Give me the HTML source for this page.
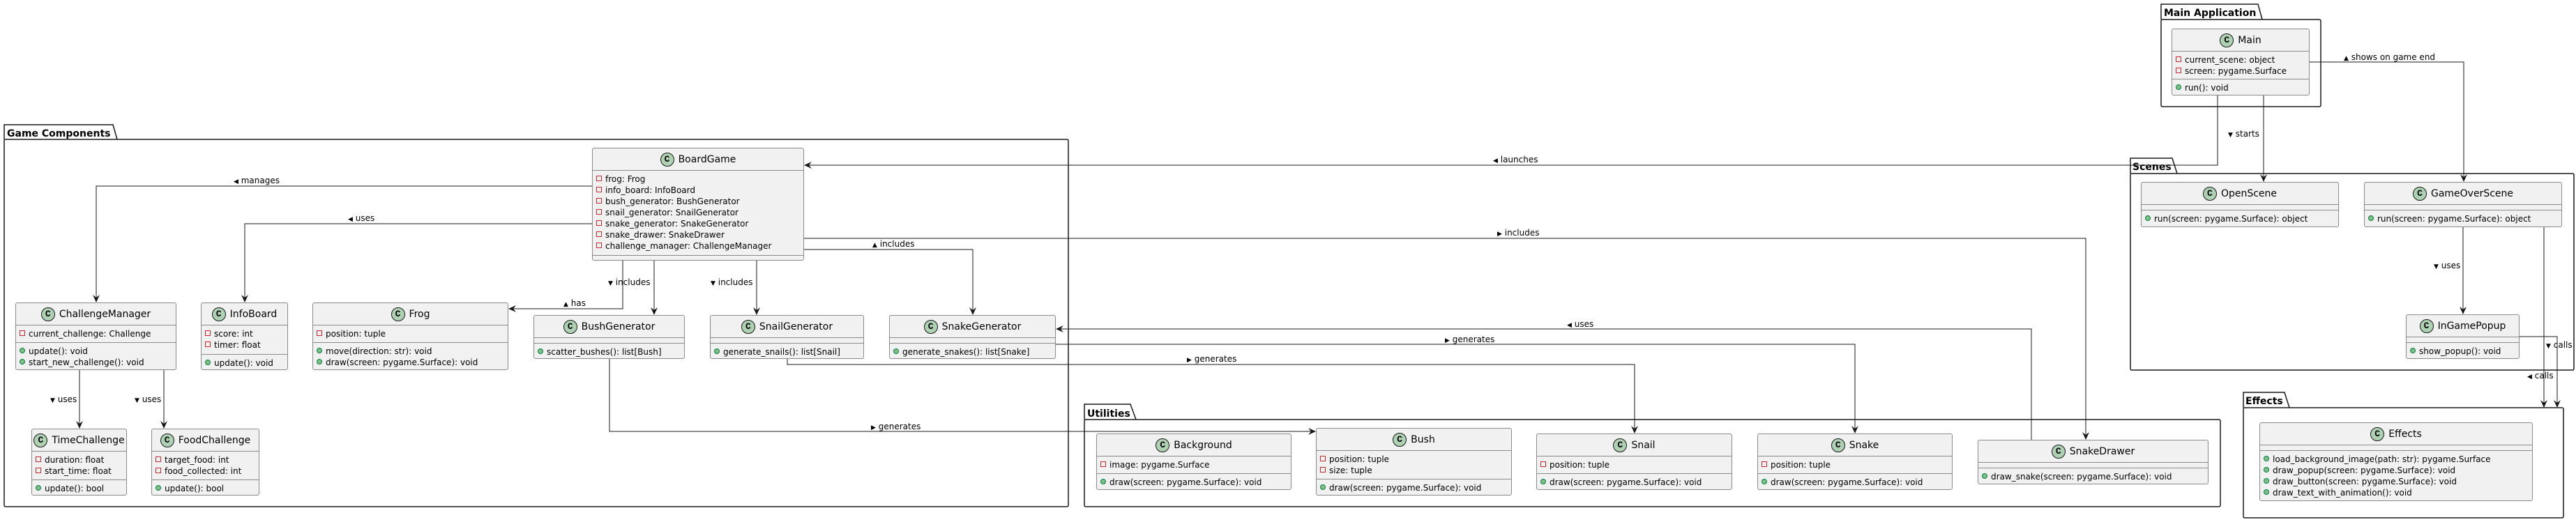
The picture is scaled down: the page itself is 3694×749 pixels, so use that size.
<!DOCTYPE html>
<html><head><meta charset="utf-8">
<style>
html,body{margin:0;padding:0;background:#fff;}
body{width:3694px;height:749px;position:relative;overflow:hidden;font-family:"DejaVu Sans","Liberation Sans",sans-serif;color:#000;}
svg{position:absolute;left:0;top:0;}
.c{position:absolute;background:#f1f1f1;border:1px solid #8a8a8a;border-radius:3px;box-sizing:border-box;overflow:hidden;}
.h{height:31px;display:flex;align-items:center;justify-content:center;font-size:14px;white-space:nowrap;}
.i{display:inline-block;width:20px;height:20px;border-radius:50%;background:#add1b2;border:1px solid #181818;box-sizing:border-box;font-weight:bold;font-size:13px;line-height:18px;text-align:center;margin-right:6px;font-family:"Liberation Mono","DejaVu Sans Mono",monospace;}
.s{border-top:1px solid #8a8a8a;padding:4px 0 4px 5px;font-size:12px;line-height:16px;white-space:nowrap;box-sizing:border-box;}
.e{height:8px;padding:0;}
.a::before{content:"";display:inline-block;width:6px;height:6px;border:1px solid #c82930;margin-right:5px;vertical-align:1px;}
.m::before{content:"";display:inline-block;width:6px;height:6px;border:1px solid #038048;background:#84be84;border-radius:50%;margin-right:5px;vertical-align:1px;}
</style></head><body>
<svg width="3694" height="749" viewBox="0 0 3694 749" font-family="DejaVu Sans, Liberation Sans, sans-serif">
<g fill="none" stroke="#181818" stroke-width="1.5">
<!-- Game Components -->
<path d="M6,200 L6,179 L162,179 L168,200"/>
<rect x="6" y="200" width="1526" height="527" rx="2"/>
<!-- Utilities -->
<path d="M1555,602 L1555,580 L1621,580 L1629,602"/>
<rect x="1555" y="602" width="1629" height="125" rx="2"/>
<!-- Main Application -->
<path d="M3099,28 L3099,6 L3238,6 L3244,28"/>
<rect x="3099" y="28" width="229" height="125" rx="2"/>
<!-- Scenes -->
<path d="M3055,249 L3055,227 L3115,227 L3122,249"/>
<rect x="3055" y="249" width="636" height="282" rx="2"/>
<!-- Effects -->
<path d="M3217,585 L3217,563 L3276,563 L3283,585"/>
<rect x="3217" y="585" width="459" height="158" rx="2"/>
</g>
<g font-weight="bold" font-size="14">
<text x="10" y="196">Game Components</text>
<text x="1559" y="598">Utilities</text>
<text x="3103" y="23">Main Application</text>
<text x="3058" y="244">Scenes</text>
<text x="3220" y="580">Effects</text>
</g>
<g fill="none" stroke="#181818" stroke-width="1">
<polyline points="849,267 138,267 138,433"/>
<polyline points="849,321 351,321 351,433"/>
<polyline points="893,374 893,443 730,443"/>
<polyline points="938,374 938,451"/>
<polyline points="1085,374 1085,451"/>
<polyline points="1153,358 1395,358 1395,451"/>
<polyline points="1153,342 2991,342 2991,630"/>
<polyline points="3180,137 3180,237 1154,237"/>
<polyline points="3246,137 3246,260"/>
<polyline points="3312,89 3533,89 3533,260"/>
<polyline points="3532,326 3532,450"/>
<polyline points="3648,326 3648,584"/>
<polyline points="3613,483 3667,483 3667,584"/>
<polyline points="2913,631 2913,472 1515,472"/>
<polyline points="1514,494 2660,494 2660,621"/>
<polyline points="1129,515 1129,523 2344,523 2344,621"/>
<polyline points="874,515 874,619 1886,619"/>
<polyline points="114,531 114,614"/>
<polyline points="235,531 235,614"/>
</g>
<g fill="#181818">
<!-- down arrows: tip x,y -->
<path d="M138,434 l-5,-11 l5,4 l5,-4 z"/>
<path d="M351,434 l-5,-11 l5,4 l5,-4 z"/>
<path d="M938,452 l-5,-11 l5,4 l5,-4 z"/>
<path d="M1085,452 l-5,-11 l5,4 l5,-4 z"/>
<path d="M1395,452 l-5,-11 l5,4 l5,-4 z"/>
<path d="M2991,631 l-5,-11 l5,4 l5,-4 z"/>
<path d="M3246,261 l-5,-11 l5,4 l5,-4 z"/>
<path d="M3533,261 l-5,-11 l5,4 l5,-4 z"/>
<path d="M3532,451 l-5,-11 l5,4 l5,-4 z"/>
<path d="M3648,585 l-5,-11 l5,4 l5,-4 z"/>
<path d="M3667,585 l-5,-11 l5,4 l5,-4 z"/>
<path d="M2660,622 l-5,-11 l5,4 l5,-4 z"/>
<path d="M2344,622 l-5,-11 l5,4 l5,-4 z"/>
<path d="M114,615 l-5,-11 l5,4 l5,-4 z"/>
<path d="M235,615 l-5,-11 l5,4 l5,-4 z"/>
<!-- left arrows -->
<path d="M729,443 l11,-5 l-4,5 l4,5 z"/>
<path d="M1153,237 l11,-5 l-4,5 l4,5 z"/>
<path d="M1514,472 l11,-5 l-4,5 l4,5 z"/>
<!-- right arrow -->
<path d="M1887,619 l-11,-5 l4,5 l-4,5 z"/>
</g>
<g font-size="12" fill="#000">
<text x="335" y="263"><tspan font-size="9">◀</tspan> manages</text>
<text x="499" y="317"><tspan font-size="9">◀</tspan> uses</text>
<text x="872" y="409"><tspan font-size="9">▼</tspan> includes</text>
<text x="808" y="439"><tspan font-size="9">▲</tspan> has</text>
<text x="1019" y="409"><tspan font-size="9">▼</tspan> includes</text>
<text x="1251" y="354"><tspan font-size="9">▲</tspan> includes</text>
<text x="2147" y="338"><tspan font-size="9">▶</tspan> includes</text>
<text x="2141" y="233"><tspan font-size="9">◀</tspan> launches</text>
<text x="3195" y="196"><tspan font-size="9">▼</tspan> starts</text>
<text x="3361" y="86"><tspan font-size="9">▲</tspan> shows on game end</text>
<text x="3490" y="385"><tspan font-size="9">▼</tspan> uses</text>
<text x="3651" y="499"><tspan font-size="9">▼</tspan> calls</text>
<text x="3624" y="543"><tspan font-size="9">◀</tspan> calls</text>
<text x="2247" y="469"><tspan font-size="9">◀</tspan> uses</text>
<text x="2072" y="491"><tspan font-size="9">▶</tspan> generates</text>
<text x="1702" y="519"><tspan font-size="9">▶</tspan> generates</text>
<text x="1249" y="616"><tspan font-size="9">▶</tspan> generates</text>
<text x="72" y="577"><tspan font-size="9">▼</tspan> uses</text>
<text x="193" y="577"><tspan font-size="9">▼</tspan> uses</text>
</g>
</svg>

<div class="c" style="left:849px;top:212px;width:304px;height:162px">
<div class="h"><span class="i">C</span>BoardGame</div>
<div class="s" style="height:122px"><div class="a">frog: Frog</div><div class="a">info_board: InfoBoard</div><div class="a">bush_generator: BushGenerator</div><div class="a">snail_generator: SnailGenerator</div><div class="a">snake_generator: SnakeGenerator</div><div class="a">snake_drawer: SnakeDrawer</div><div class="a">challenge_manager: ChallengeManager</div></div>
<div class="s e"></div>
</div>

<div class="c" style="left:22px;top:434px;width:231px;height:97px">
<div class="h"><span class="i">C</span>ChallengeManager</div>
<div class="s" style="height:25px"><div class="a">current_challenge: Challenge</div></div>
<div class="s"><div class="m">update(): void</div><div class="m">start_new_challenge(): void</div></div>
</div>

<div class="c" style="left:288px;top:434px;width:125px;height:97px">
<div class="h"><span class="i">C</span>InfoBoard</div>
<div class="s" style="height:42px"><div class="a">score: int</div><div class="a">timer: float</div></div>
<div class="s"><div class="m">update(): void</div></div>
</div>

<div class="c" style="left:448px;top:434px;width:281px;height:97px">
<div class="h"><span class="i">C</span>Frog</div>
<div class="s" style="height:25px"><div class="a">position: tuple</div></div>
<div class="s"><div class="m">move(direction: str): void</div><div class="m">draw(screen: pygame.Surface): void</div></div>
</div>

<div class="c" style="left:765px;top:452px;width:217px;height:63px">
<div class="h"><span class="i">C</span>BushGenerator</div>
<div class="s e"></div>
<div class="s"><div class="m">scatter_bushes(): list[Bush]</div></div>
</div>

<div class="c" style="left:1018px;top:452px;width:221px;height:63px">
<div class="h"><span class="i">C</span>SnailGenerator</div>
<div class="s e"></div>
<div class="s"><div class="m">generate_snails(): list[Snail]</div></div>
</div>

<div class="c" style="left:1275px;top:452px;width:239px;height:63px">
<div class="h"><span class="i">C</span>SnakeGenerator</div>
<div class="s e"></div>
<div class="s"><div class="m">generate_snakes(): list[Snake]</div></div>
</div>

<div class="c" style="left:45px;top:615px;width:137px;height:96px">
<div class="h"><span class="i">C</span>TimeChallenge</div>
<div class="s" style="height:41px"><div class="a">duration: float</div><div class="a">start_time: float</div></div>
<div class="s"><div class="m">update(): bool</div></div>
</div>

<div class="c" style="left:217px;top:615px;width:155px;height:96px">
<div class="h"><span class="i">C</span>FoodChallenge</div>
<div class="s" style="height:41px"><div class="a">target_food: int</div><div class="a">food_collected: int</div></div>
<div class="s"><div class="m">update(): bool</div></div>
</div>

<div class="c" style="left:1572px;top:622px;width:280px;height:81px">
<div class="h"><span class="i">C</span>Background</div>
<div class="s" style="height:25px"><div class="a">image: pygame.Surface</div></div>
<div class="s"><div class="m">draw(screen: pygame.Surface): void</div></div>
</div>

<div class="c" style="left:1887px;top:614px;width:281px;height:97px">
<div class="h"><span class="i">C</span>Bush</div>
<div class="s" style="height:41px"><div class="a">position: tuple</div><div class="a">size: tuple</div></div>
<div class="s"><div class="m">draw(screen: pygame.Surface): void</div></div>
</div>

<div class="c" style="left:2203px;top:622px;width:281px;height:81px">
<div class="h"><span class="i">C</span>Snail</div>
<div class="s" style="height:25px"><div class="a">position: tuple</div></div>
<div class="s"><div class="m">draw(screen: pygame.Surface): void</div></div>
</div>

<div class="c" style="left:2520px;top:622px;width:280px;height:81px">
<div class="h"><span class="i">C</span>Snake</div>
<div class="s" style="height:25px"><div class="a">position: tuple</div></div>
<div class="s"><div class="m">draw(screen: pygame.Surface): void</div></div>
</div>

<div class="c" style="left:2836px;top:631px;width:331px;height:64px">
<div class="h"><span class="i">C</span>SnakeDrawer</div>
<div class="s e"></div>
<div class="s"><div class="m">draw_snake(screen: pygame.Surface): void</div></div>
</div>

<div class="c" style="left:3240px;top:606px;width:392px;height:113px">
<div class="h"><span class="i">C</span>Effects</div>
<div class="s e"></div>
<div class="s"><div class="m">load_background_image(path: str): pygame.Surface</div><div class="m">draw_popup(screen: pygame.Surface): void</div><div class="m">draw_button(screen: pygame.Surface): void</div><div class="m">draw_text_with_animation(): void</div></div>
</div>

<div class="c" style="left:3114px;top:41px;width:198px;height:96px">
<div class="h"><span class="i">C</span>Main</div>
<div class="s" style="height:40px"><div class="a">current_scene: object</div><div class="a">screen: pygame.Surface</div></div>
<div class="s"><div class="m">run(): void</div></div>
</div>

<div class="c" style="left:3070px;top:261px;width:284px;height:65px">
<div class="h"><span class="i">C</span>OpenScene</div>
<div class="s e"></div>
<div class="s"><div class="m">run(screen: pygame.Surface): object</div></div>
</div>

<div class="c" style="left:3390px;top:261px;width:284px;height:65px">
<div class="h"><span class="i">C</span>GameOverScene</div>
<div class="s e"></div>
<div class="s"><div class="m">run(screen: pygame.Surface): object</div></div>
</div>

<div class="c" style="left:3450px;top:451px;width:163px;height:64px">
<div class="h"><span class="i">C</span>InGamePopup</div>
<div class="s e"></div>
<div class="s"><div class="m">show_popup(): void</div></div>
</div>
</body></html>
